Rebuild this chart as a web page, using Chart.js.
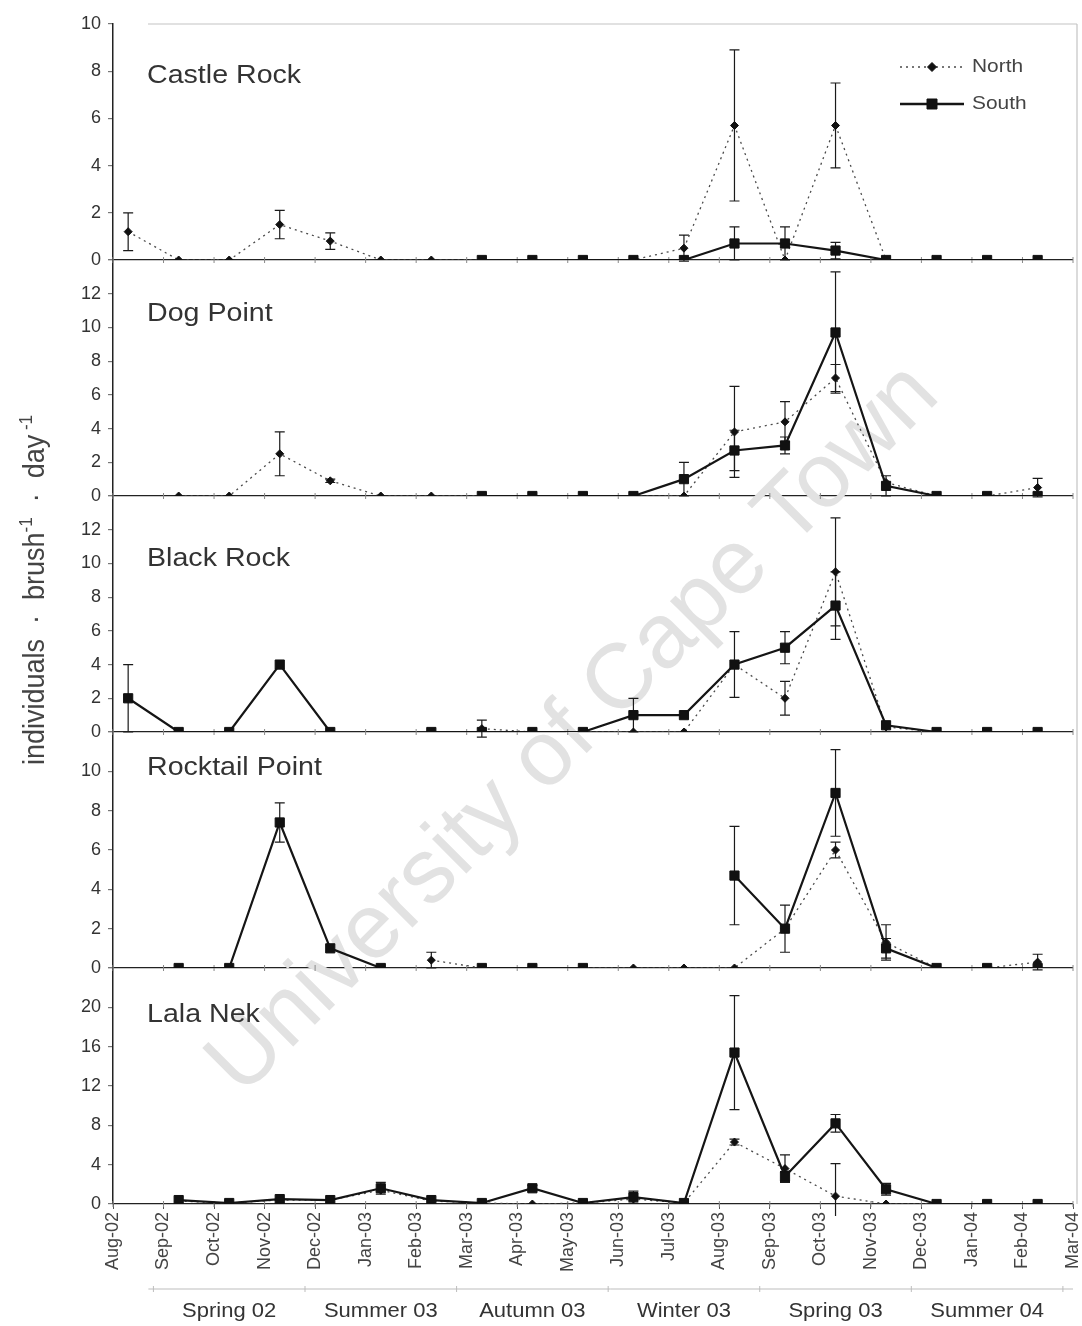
<!DOCTYPE html>
<html>
<head>
<meta charset="utf-8">
<script src="https://cdn.jsdelivr.net/npm/chart.js@4.4.1/dist/chart.umd.min.js"></script>
<style>
html,body{margin:0;padding:0;background:#ffffff;}
#wrap{position:relative;width:1082px;height:1326px;}
canvas{display:block;}
</style>
</head>
<body>
<div id="wrap"><canvas id="c" width="1082" height="1326"></canvas></div>
<script>
// ---------- DATA ----------
const monthLabels = ['Aug-02','Sep-02','Oct-02','Nov-02','Dec-02','Jan-03','Feb-03','Mar-03','Apr-03','May-03',
  'Jun-03','Jul-03','Aug-03','Sep-03','Oct-03','Nov-03','Dec-03','Jan-04','Feb-04','Mar-04'];
const sampleMonths = ['Aug-02','Sep-02','Oct-02','Nov-02','Dec-02','Jan-03','Feb-03','Mar-03','Apr-03','May-03',
  'Jun-03','Jul-03','Aug-03','Sep-03','Oct-03','Nov-03','Dec-03','Jan-04','Feb-04'];
const samplingDay = 10;
const seasonLabels = ['Spring 02','Summer 03','Autumn 03','Winter 03','Spring 03','Summer 04'];
const seasonMidMonths = ['Oct-02','Jan-03','Apr-03','Jul-03','Oct-03','Jan-04'];
const siteNames = ['Castle Rock','Dog Point','Black Rock','Rocktail Point','Lala Nek'];
const seriesNames = ['North','South'];
const axisTitle = ['individuals  \u00b7  brush', '-1', '  \u00b7  day', ' -1'];
const watermarkText = 'University of Cape Town';

// Castle Rock
const castleNorth    = [1.2, 0, 0, 1.5, 0.8, 0, 0, 0, 0, 0, 0, 0.5, 5.7, 0, 5.7, 0, 0, 0, 0];
const castleNorthErr = [0.8, 0, 0, 0.6, 0.35, 0, 0, 0, 0, 0, 0, 0.55, 3.2, 0, 1.8, 0, 0, 0, 0];
const castleSouth    = [null, null, null, null, null, null, null, 0, 0, 0, 0, 0, 0.7, 0.7, 0.4, 0, 0, 0, 0];
const castleSouthErr = [0, 0, 0, 0, 0, 0, 0, 0, 0, 0, 0, 0, 0.7, 0.7, 0.35, 0, 0, 0, 0];
// Dog Point
const dogNorth    = [null, 0, 0, 2.5, 0.9, 0, 0, 0, 0, 0, 0, 0, 3.8, 4.4, 7.0, 0.8, 0, 0, 0.5];
const dogNorthErr = [0, 0, 0, 1.3, 0.1, 0, 0, 0, 0, 0, 0, 0, 2.7, 1.2, 0.8, 0, 0, 0, 0.55];
const dogSouth    = [null, null, null, null, null, null, null, 0, 0, 0, 0, 1.0, 2.7, 3.0, 9.7, 0.6, 0, 0, 0];
const dogSouthErr = [0, 0, 0, 0, 0, 0, 0, 0, 0, 0, 0, 1.0, 1.2, 0.5, 3.6, 0.6, 0, 0, 0];
// Black Rock
const blackNorth    = [null, null, null, null, null, null, null, 0.2, 0, 0, 0, 0, 4.0, 2.0, 9.5, 0.3, 0, 0, 0];
const blackNorthErr = [0, 0, 0, 0, 0, 0, 0, 0.5, 0, 0, 0, 0, 1.95, 1.0, 3.2, 0, 0, 0, 0];
const blackSouth    = [2.0, 0, 0, 4.0, 0, null, 0, 0, 0, 0, 1.0, 1.0, 4.0, 5.0, 7.5, 0.4, 0, 0, 0];
const blackSouthErr = [2.0, 0, 0, 0, 0, 0, 0, 0, 0, 0, 1.0, 0, 0, 0.95, 2.0, 0, 0, 0, 0];
// Rocktail Point
const rockNorth    = [null, null, null, null, null, null, 0.4, 0, 0, 0, 0, 0, 0, 2.0, 6.0, 1.3, 0, 0, 0.3];
const rockNorthErr = [0, 0, 0, 0, 0, 0, 0.4, 0, 0, 0, 0, 0, 0, 0, 0.4, 0.9, 0, 0, 0.4];
const rockSouth    = [null, 0, 0, 7.4, 1.0, 0, null, 0, 0, 0, null, null, 4.7, 2.0, 8.9, 1.0, 0, 0, 0];
const rockSouthErr = [0, 0, 0, 1.0, 0, 0, 0, 0, 0, 0, 0, 0, 2.5, 1.2, 2.2, 0.5, 0, 0, 0];
// Lala Nek
const lalaNorth    = [null, 0.3, 0.1, 0.4, 0.4, 1.4, 0.3, 0.1, 0, 0.1, 0.5, 0.1, 6.3, 3.6, 0.8, 0, 0, 0, 0];
const lalaNorthErr = [0, 0, 0, 0, 0, 0, 0, 0, 0, 0, 0, 0, 0.3, 1.4, 3.3, 0, 0, 0, 0];
const lalaSouth    = [null, 0.4, 0.1, 0.5, 0.4, 1.6, 0.4, 0.1, 1.6, 0.1, 0.7, 0.1, 15.4, 2.8, 8.2, 1.5, 0, 0, 0];
const lalaSouthErr = [0, 0, 0, 0, 0, 0.6, 0, 0, 0.3, 0, 0.6, 0, 5.8, 0.5, 0.9, 0.6, 0, 0, 0];

// y-axis ranges of each panel
const panelMax  = [10, 14, 14, 12, 24];
const panelStep = [2, 2, 2, 2, 4];

// ---------- LAYOUT / STYLE ----------
const FONT = "'Liberation Sans', Arial, sans-serif";
const STRETCH = 1.1;
const titleAtValue = [7.8, 10.8, 10.3, 10.2, 19.2];
const northStyle = {color:'#4a4a4a', width:1.3, dash:[2,4], point:'rectRot', radius:4, pointColor:'#111'};
const southStyle = {color:'#151515', width:2.2, dash:[], point:'rect', radius:6.5, pointColor:'#111'};

const northData = [castleNorth, dogNorth, blackNorth, rockNorth, lalaNorth];
const northErr  = [castleNorthErr, dogNorthErr, blackNorthErr, rockNorthErr, lalaNorthErr];
const southData = [castleSouth, dogSouth, blackSouth, rockSouth, lalaSouth];
const southErr  = [castleSouthErr, dogSouthErr, blackSouthErr, rockSouthErr, lalaSouthErr];

const sampleX = m => monthLabels.indexOf(m) + (samplingDay - 1) / 30;
const toPoints = arr => sampleMonths.map((m, i) => ({x: sampleX(m), y: arr[i]}));

const datasets = [];
siteNames.forEach((site, p) => {
  const yid = 'y' + p;
  datasets.push({
    label: seriesNames[1], site, yAxisID: yid, data: toPoints(southData[p]), errors: southErr[p],
    borderColor: southStyle.color, borderWidth: southStyle.width, borderDash: southStyle.dash,
    pointStyle: southStyle.point, pointRadius: southStyle.radius, pointBackgroundColor: southStyle.pointColor,
    pointBorderColor: southStyle.pointColor, pointBorderWidth: 1, tension: 0, spanGaps: false, order: 0
  });
  datasets.push({
    label: seriesNames[0], site, yAxisID: yid, data: toPoints(northData[p]), errors: northErr[p],
    borderColor: northStyle.color, borderWidth: northStyle.width, borderDash: northStyle.dash,
    pointStyle: northStyle.point, pointRadius: northStyle.radius, pointBackgroundColor: northStyle.pointColor,
    pointBorderColor: northStyle.pointColor, pointBorderWidth: 1, tension: 0, spanGaps: false, order: 1
  });
});

const scales = {
  x: {
    type: 'linear', position: 'bottom', min: 0, max: monthLabels.length - 1,
    afterBuildTicks: s => { s.ticks = monthLabels.map((_, i) => ({value: i})); },
    ticks: {autoSkip: false, maxRotation: 90, minRotation: 90, padding: 3,
      color: '#444', font: {family: FONT, size: 18},
      callback: v => monthLabels[v]},
    grid: {drawOnChartArea: false, tickLength: 5, color: '#555'},
    border: {display: false},
    afterFit: s => { s.height = 122; s.paddingLeft = 0; s.paddingRight = 0; }
  }
};
// bottom panel defined first, top panel last
for (let p = siteNames.length - 1; p >= 0; p--) {
  const max = panelMax[p];
  scales['y' + p] = {
    type: 'linear', position: 'left', stack: 'panels', stackWeight: 1, weight: siteNames.length - p,
    min: 0, max: max,
    afterBuildTicks: s => {
      const t = [];
      for (let v = 0; v <= max + 1e-9; v += panelStep[p]) t.push({value: v});
      s.ticks = t;
    },
    ticks: {autoSkip: false, padding: 7, color: '#333', font: {family: FONT, size: 18},
      callback: v => (p > 0 && v === max) ? '' : String(v)},
    grid: {drawOnChartArea: true, tickLength: 5, tickColor: '#777', lineWidth: 1.2,
      color: c => (c.tick && c.tick.value === 0) ? '#222' : 'rgba(0,0,0,0)'},
    border: {display: true, color: '#222', width: 1.5},
    afterFit: s => { s.width = 113; }
  };
}

// ---------- PLUGINS ----------
const decorPlugin = {
  id: 'decor',
  beforeDatasetsDraw(chart) {
    const ctx = chart.ctx, ca = chart.chartArea;
    // watermark
    ctx.save();
    ctx.translate(574, 730);
    ctx.rotate(-Math.PI / 4);
    ctx.font = '100px ' + FONT;
    const w = ctx.measureText(watermarkText).width;
    const k = 990 / w;
    ctx.font = (100 * k).toFixed(1) + 'px ' + FONT;
    ctx.fillStyle = '#e2e2e2';
    ctx.textAlign = 'center';
    ctx.textBaseline = 'middle';
    ctx.fillText(watermarkText, 0, 0);
    ctx.restore();
    // frame pieces
    ctx.save();
    ctx.strokeStyle = '#c4c4c4';
    ctx.lineWidth = 1.2;
    ctx.beginPath();
    ctx.moveTo(ca.left + 35, ca.top); ctx.lineTo(ca.right + 4, ca.top);
    ctx.moveTo(ca.right + 4, ca.top); ctx.lineTo(ca.right + 4, ca.bottom);
    ctx.stroke();
    // small month ticks on each panel's zero line
    const xs = chart.scales.x;
    ctx.strokeStyle = '#888';
    ctx.lineWidth = 1;
    siteNames.forEach((_, p) => {
      const ys = chart.scales['y' + p];
      const y0 = ys.getPixelForValue(0);
      ctx.beginPath();
      monthLabels.forEach((_, i) => {
        const x = xs.getPixelForValue(i);
        ctx.moveTo(x, y0 - 3); ctx.lineTo(x, y0 + 3);
      });
      ctx.stroke();
    });
    ctx.restore();
    // error bars
    ctx.save();
    chart.data.datasets.forEach((ds) => {
      const ys = chart.scales[ds.yAxisID];
      ctx.strokeStyle = '#1a1a1a';
      ctx.lineWidth = 1.2;
      ctx.beginPath();
      ds.data.forEach((pt, i) => {
        const e = ds.errors[i];
        if (pt.y === null || !e) return;
        const x = xs.getPixelForValue(pt.x);
        const tRaw = ys.getPixelForValue(pt.y + e);
        const bRaw = ys.getPixelForValue(pt.y - e);
        const t = Math.max(ys.top, tRaw), b = Math.min(ys.bottom + 12, bRaw);
        ctx.moveTo(x, t); ctx.lineTo(x, b);
        if (tRaw >= ys.top) { ctx.moveTo(x - 5, t); ctx.lineTo(x + 5, t); }
        if (bRaw <= ys.bottom + 12) { ctx.moveTo(x - 5, b); ctx.lineTo(x + 5, b); }
      });
      ctx.stroke();
    });
    ctx.restore();
  },
  afterDraw(chart) {
    const ctx = chart.ctx, xs = chart.scales.x;
    const stretchText = (txt, x, y, size, align, color) => {
      ctx.save();
      ctx.font = size + 'px ' + FONT;
      ctx.fillStyle = color;
      ctx.textBaseline = 'middle';
      const w = ctx.measureText(txt).width * STRETCH;
      let x0 = x;
      if (align === 'center') x0 = x - w / 2;
      if (align === 'right') x0 = x - w;
      ctx.translate(x0, y);
      ctx.scale(STRETCH, 1);
      ctx.textAlign = 'left';
      ctx.fillText(txt, 0, 0);
      ctx.restore();
    };
    // panel titles
    siteNames.forEach((name, p) => {
      const ys = chart.scales['y' + p];
      stretchText(name, 147, ys.getPixelForValue(titleAtValue[p]), 26, 'left', '#333');
    });
    // legend (inside top panel)
    const legendRows = [[northStyle, seriesNames[0], 67], [southStyle, seriesNames[1], 104]];
    legendRows.forEach(([st, label, y]) => {
      ctx.save();
      ctx.strokeStyle = st.color;
      ctx.lineWidth = st === southStyle ? 2.6 : 1.3;
      ctx.setLineDash(st.dash);
      ctx.beginPath(); ctx.moveTo(900, y); ctx.lineTo(964, y); ctx.stroke();
      ctx.setLineDash([]);
      ctx.fillStyle = st.pointColor; ctx.strokeStyle = st.pointColor; ctx.lineWidth = 1;
      ctx.beginPath();
      if (st.point === 'rect') { ctx.rect(932 - 5, y - 5, 10, 10); }
      else { ctx.moveTo(932, y - 4.5); ctx.lineTo(936.5, y); ctx.lineTo(932, y + 4.5); ctx.lineTo(927.5, y); ctx.closePath(); }
      ctx.fill(); ctx.stroke();
      ctx.restore();
      stretchText(label, 972, y, 19, 'left', '#444');
    });
    // y-axis title (rotated) with superscripts
    ctx.save();
    ctx.translate(34, 590);
    ctx.rotate(-Math.PI / 2);
    ctx.scale(1, STRETCH);
    const mainF = '27px ' + FONT, supF = '17px ' + FONT;
    let total = 0;
    axisTitle.forEach((t, i) => { ctx.font = (i % 2) ? supF : mainF; total += ctx.measureText(t).width; });
    let xx = -total / 2;
    ctx.fillStyle = '#444';
    ctx.textBaseline = 'alphabetic';
    axisTitle.forEach((t, i) => {
      ctx.font = (i % 2) ? supF : mainF;
      ctx.fillText(t, xx, (i % 2) ? -2 : 9);
      xx += ctx.measureText(t).width;
    });
    ctx.restore();
    // season bracket line and labels
    ctx.save();
    ctx.strokeStyle = '#bdbdbd';
    ctx.lineWidth = 1;
    const yb = 1289;
    ctx.beginPath();
    ctx.moveTo(xs.getPixelForValue(0.7), yb); ctx.lineTo(xs.getPixelForValue(19), yb);
    for (let k = 0; k <= seasonLabels.length; k++) {
      const xv = xs.getPixelForValue(0.8 + 3 * k);
      ctx.moveTo(xv, yb - 3); ctx.lineTo(xv, yb + 3);
    }
    ctx.stroke();
    ctx.restore();
    seasonLabels.forEach((s, i) => {
      stretchText(s, xs.getPixelForValue(sampleX(seasonMidMonths[i])), 1311, 20, 'center', '#333');
    });
  }
};

new Chart(document.getElementById('c'), {
  type: 'line',
  data: {datasets},
  options: {
    responsive: false,
    animation: false,
    devicePixelRatio: 1,
    layout: {padding: {left: 0, right: 9, top: 24, bottom: 0}},
    plugins: {legend: {display: false}, tooltip: {enabled: false}},
    scales
  },
  plugins: [decorPlugin]
});
</script>
</body>
</html>
